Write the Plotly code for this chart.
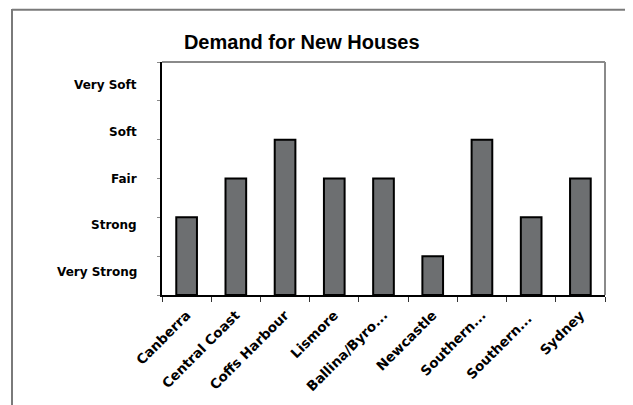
import plotly.graph_objects as go

regions = ["Canberra", "Central Coast", "Coffs Harbour", "Lismore", "Ballina/Byro...",
           "Newcastle", "Southern...", "Southern... ", "Sydney"]
demand = [2, 3, 4, 3, 3, 1, 4, 2, 3]
demand_labels = ["Very Strong", "Strong", "Fair", "Soft", "Very Soft"]

lab_font = "DejaVu Sans"

fig = go.Figure(go.Bar(
    x=regions,
    y=demand,
    width=0.42,
    marker=dict(color="#6d6f71", line=dict(color="black", width=2)),
))

# category labels sit in 5 equal bands of the plot height
for i, lab in enumerate(demand_labels):
    fig.add_annotation(
        xref="paper", yref="paper", x=-0.052, y=(i + 0.5) / len(demand_labels),
        text=lab, showarrow=False, xanchor="right", yanchor="middle",
        font=dict(family=lab_font, size=12, color="black", weight="bold"),
    )

# outer frame lines
fig.add_shape(type="line", xref="paper", yref="paper", x0=-0.3386, x1=1.1, y0=1.224, y1=1.224,
              line=dict(color="#7a7a7a", width=2))
fig.add_shape(type="line", xref="paper", yref="paper", x0=-0.3386, x1=-0.3386, y0=1.228, y1=-0.5,
              line=dict(color="#7a7a7a", width=2))
# gray top/right border of plot area
fig.add_shape(type="line", xref="paper", yref="paper", x0=0, x1=1, y0=1, y1=1,
              line=dict(color="#8a8a8a", width=2))
fig.add_shape(type="line", xref="paper", yref="paper", x0=1, x1=1, y0=1, y1=0,
              line=dict(color="#8a8a8a", width=2))

fig.update_layout(
    width=633, height=405,
    margin=dict(l=154, r=36, t=54, b=118, autoexpand=False),
    paper_bgcolor="white", plot_bgcolor="white",
    showlegend=False,
    title=dict(text="Demand for New Houses", x=0.464, xanchor="center",
               y=0.916, yanchor="middle",
               font=dict(family="Liberation Sans", size=20, color="black", weight="bold")),
)
fig.update_xaxes(
    automargin=False,
    showline=True, linecolor="black", linewidth=2,
    ticks="outside", tickson="boundaries", ticklen=5, tickcolor="#333", tickwidth=1,
    tickangle=-45, ticklabelstandoff=5,
    tickfont=dict(family=lab_font, size=13.5, color="black", weight="bold"),
    showgrid=False,
)
fig.update_yaxes(
    automargin=False,
    range=[0, 6], dtick=1, showticklabels=False,
    showline=True, linecolor="black", linewidth=2,
    ticks="outside", ticklen=3, tickcolor="#888", tickwidth=1,
    showgrid=False, zeroline=False,
)

fig.write_html("out.html")
